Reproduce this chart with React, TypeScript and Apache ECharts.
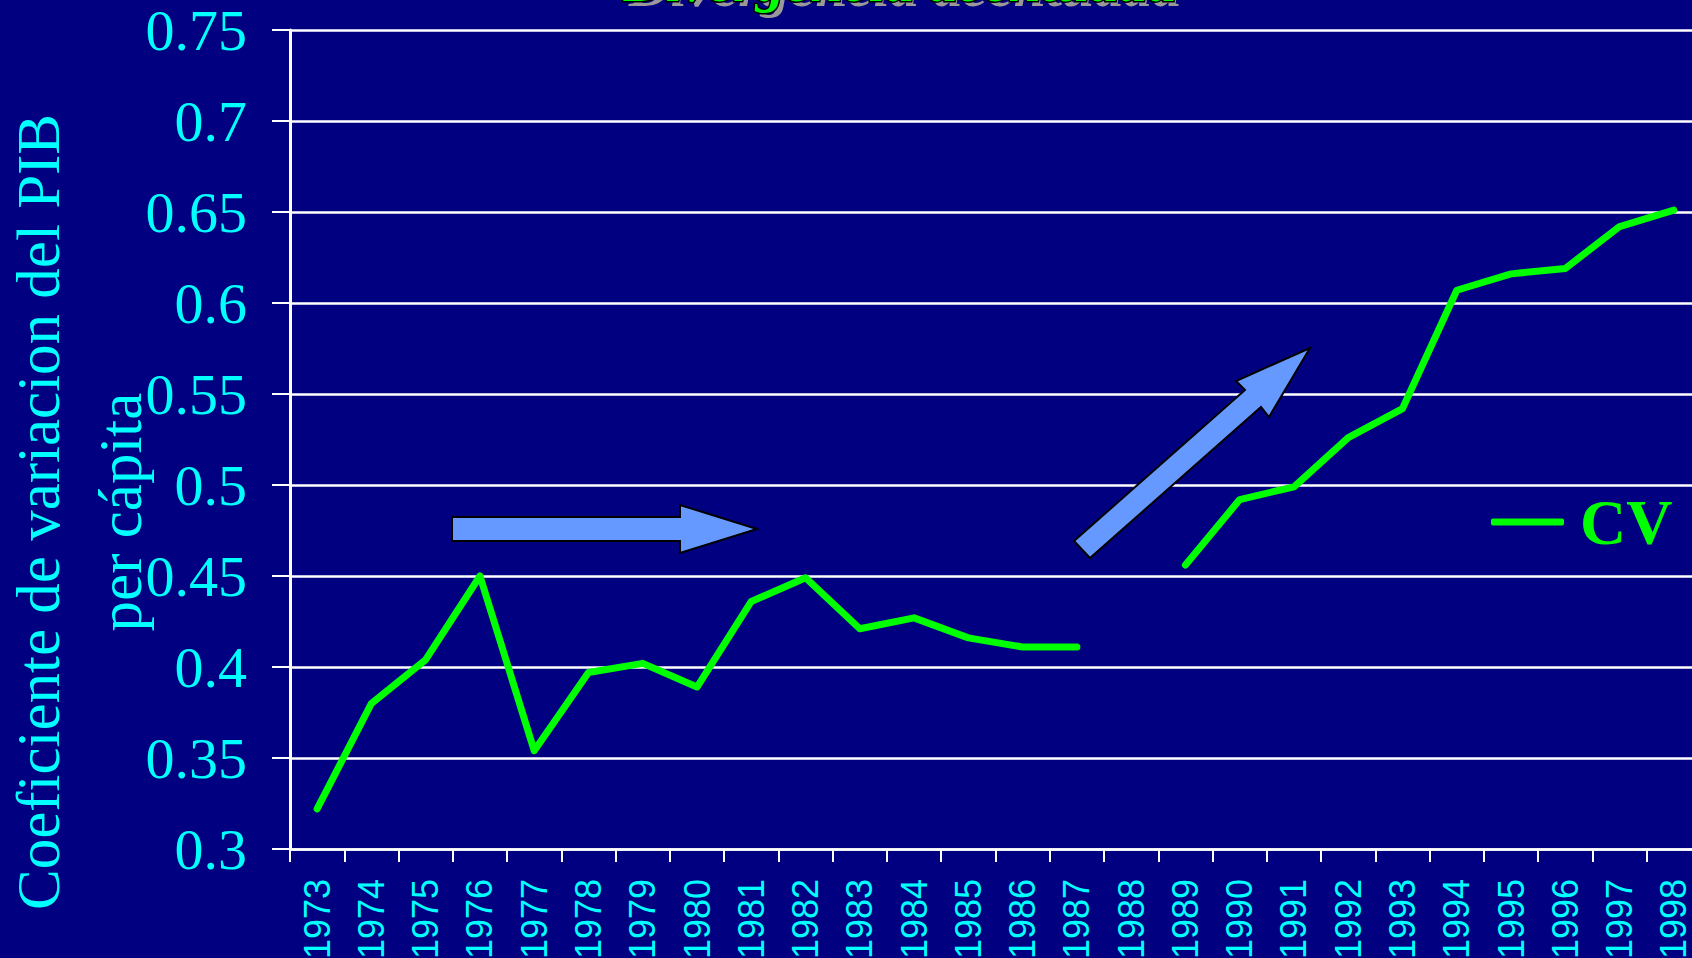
import React, { useEffect, useRef } from "react";
import * as echarts from "echarts";

// ---- data ----
const years = [
  "1973", "1974", "1975", "1976", "1977", "1978", "1979", "1980", "1981",
  "1982", "1983", "1984", "1985", "1986", "1987", "1988", "1989", "1990",
  "1991", "1992", "1993", "1994", "1995", "1996", "1997", "1998",
];
const cvValues: (number | null)[] = [
  0.322, 0.380, 0.404, 0.450, 0.354, 0.397, 0.402, 0.389, 0.436,
  0.449, 0.421, 0.427, 0.416, 0.411, 0.411, null, 0.456, 0.492,
  0.499, 0.526, 0.542, 0.607, 0.616, 0.619, 0.642, 0.651,
];
const seriesName = "CV";
const yMin = 0.3;
const yMax = 0.75;
const yStep = 0.05;
const yTitleLines = ["Coeficiente de variacion del PIB", "per cápita"];
const titleText = "Divergencia acentuada";

const SERIF = '"Liberation Serif", "Times New Roman", serif';
const SANS = '"Liberation Sans", Arial, sans-serif';

export default function App() {
  const ref = useRef<HTMLDivElement>(null);

  useEffect(() => {
    if (!ref.current) return;
    const chart = echarts.init(ref.current, null, { renderer: "svg" });

    const arrowStyle = { fill: "#6699ff", stroke: "#000000", lineWidth: 2 };

    chart.setOption({
      animation: false,
      backgroundColor: "#000080",
      grid: {
        left: 290,
        top: 30,
        bottom: 109,
        right: -9,
        containLabel: false,
        outerBoundsMode: "none",
      },
      legend: {
        data: [seriesName],
        left: 1486,
        top: 485,
        icon: "roundRect",
        itemWidth: 73,
        itemHeight: 7,
        textStyle: {
          color: "#00ff00",
          fontFamily: SERIF,
          fontWeight: "bold",
          fontSize: 64,
          lineHeight: 64,
          padding: [0, 0, 0, 11],
        },
      },
      xAxis: {
        type: "category",
        data: years,
        boundaryGap: true,
        axisLine: { show: true, lineStyle: { color: "#ffffff", width: 2.5 } },
        axisTick: { show: true, interval: 0, length: 13, lineStyle: { color: "#ffffff", width: 2 } },
        axisLabel: {
          interval: 0,
          rotate: 90,
          margin: 30,
          color: "#00ffff",
          fontFamily: SANS,
          fontSize: 36,
        },
        splitLine: { show: false },
      },
      yAxis: {
        type: "value",
        min: yMin,
        max: yMax,
        interval: yStep,
        axisLine: { show: true, lineStyle: { color: "#ffffff", width: 3 } },
        axisTick: { show: true, length: 18, lineStyle: { color: "#ffffff", width: 2 } },
        axisLabel: {
          margin: 43,
          color: "#00ffff",
          fontFamily: SERIF,
          fontSize: 58,
          formatter: (v: number) => String(+v.toFixed(2)),
        },
        splitLine: { show: true, lineStyle: { color: "#ffffff", width: 2.5 } },
      },
      series: [
        {
          name: seriesName,
          type: "line",
          data: cvValues,
          connectNulls: false,
          showSymbol: false,
          symbol: "none",
          itemStyle: { color: "#00ff00" },
          lineStyle: { color: "#00ff00", width: 7, cap: "round", join: "round" },
          z: 5,
        },
      ],
      graphic: [
        {
          type: "text",
          x: 79,
          y: 512,
          rotation: Math.PI / 2,
          style: {
            text: yTitleLines.join("\n"),
            fill: "#00ffff",
            font: `61px ${SERIF}`,
            align: "center",
            verticalAlign: "middle",
            lineHeight: 82,
          },
        },
        {
          type: "text",
          x: 905,
          y: -14,
          style: {
            text: titleText,
            fill: "#999999",
            font: `italic bold 58px ${SERIF}`,
            align: "center",
            verticalAlign: "middle",
          },
        },
        {
          type: "text",
          x: 900,
          y: -19,
          style: {
            text: titleText,
            fill: "#00ff00",
            stroke: "#000000",
            lineWidth: 3,
            font: `italic bold 58px ${SERIF}`,
            align: "center",
            verticalAlign: "middle",
          },
        },
        {
          type: "polygon",
          z: 10,
          shape: {
            points: [
              [452, 517], [680, 517], [680, 505], [757, 529],
              [680, 553], [680, 541], [452, 541],
            ],
          },
          style: arrowStyle,
        },
        {
          type: "polygon",
          z: 10,
          shape: {
            points: [
              [1074, 541], [1245, 390], [1236, 381], [1310, 348],
              [1269, 417], [1261, 407], [1090, 558],
            ],
          },
          style: arrowStyle,
        },
      ],
    });

    return () => chart.dispose();
  }, []);

  return (
    <div
      ref={ref}
      style={{ position: "absolute", left: 0, top: 0, width: 1692, height: 958 }}
    />
  );
}
